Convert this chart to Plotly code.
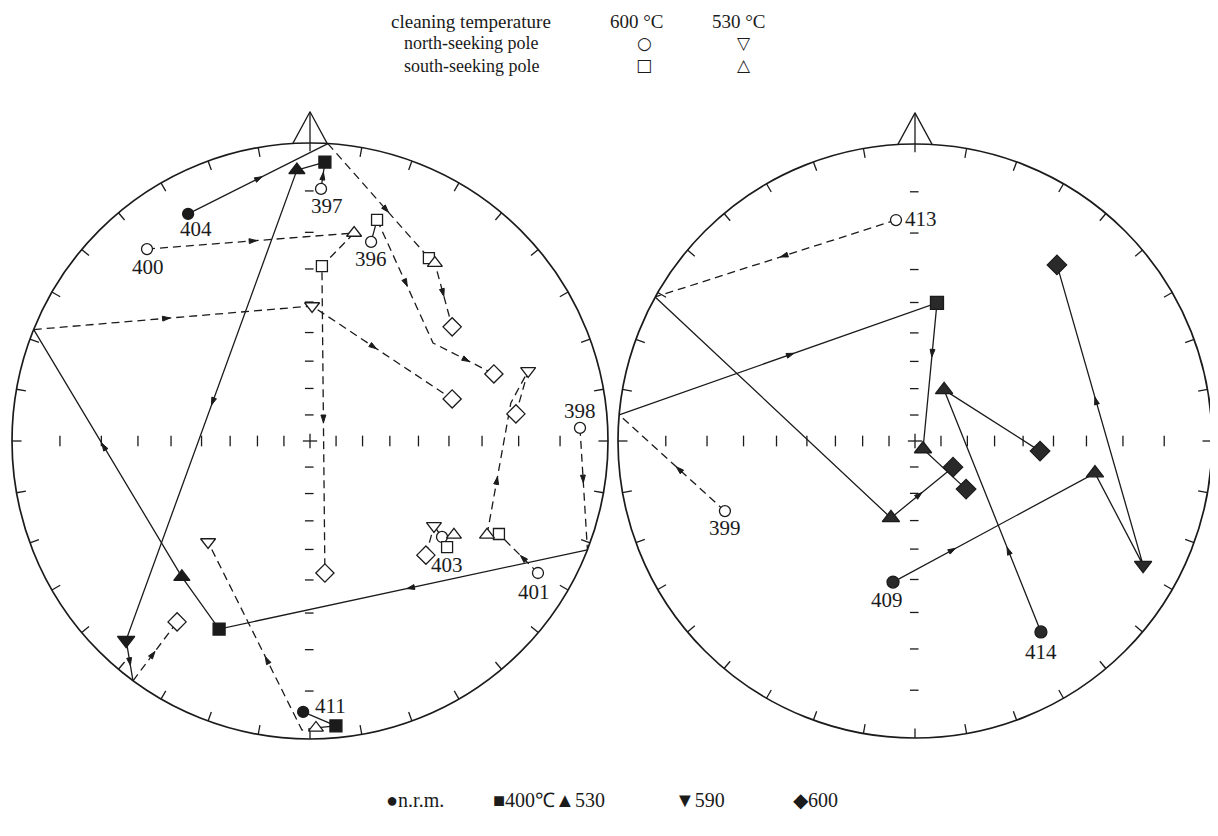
import math
import plotly.graph_objects as go

INK = "#1b1b1b"

# ------------------------------------------------------------------
# DATA  (stereographic / Wulff positions, in units of the net radius;
#        x = east, y = north).
# ------------------------------------------------------------------

# ---- left net : marker positions ----
L_nrm_x = [-0.409, -0.023]                 # 404, 411
L_nrm_y = [0.762, -0.909]
L_400_x = [0.050, -0.305, 0.087]           # filled squares
L_400_y = [0.936, -0.631, -0.956]
L_530_x = [-0.044, -0.430]                 # filled up-triangles
L_530_y = [0.909, -0.456]
L_590_x = [-0.617]                         # filled down-triangle
L_590_y = [-0.668]
L_N600_x = [0.037, 0.205, -0.547, 0.906, 0.765, 0.443]     # open circles
L_N600_y = [0.846, 0.668, 0.644, 0.044, -0.443, -0.322]
L_S600_x = [0.399, 0.225, 0.040, 0.634, 0.460]             # open squares
L_S600_y = [0.614, 0.742, 0.587, -0.312, -0.356]
L_N530_x = [0.007, 0.732, 0.416, -0.342]                   # open down-triangles
L_N530_y = [0.453, 0.235, -0.285, -0.339]
L_S530_x = [0.419, 0.148, 0.594, 0.483, 0.020]             # open up-triangles
L_S530_y = [0.597, 0.698, -0.315, -0.315, -0.963]
L_D600_x = [0.477, 0.617, 0.050, 0.477, 0.691, 0.389, -0.446]   # open diamonds
L_D600_y = [0.383, 0.225, -0.443, 0.141, 0.091, -0.383, -0.607]

# ---- left net : paths (x list, y list, arrows as (segment, fraction)) ----
L_solid = [
    ([-0.409, 0.060], [0.762, 0.998], [(0, 0.53)]),
    ([-0.044, 0.050], [0.909, 0.936], []),
    ([0.037, 0.050], [0.846, 0.936], [(0, 0.62)]),
    ([-0.044, -0.617, -0.594], [0.909, -0.668, -0.805], [(0, 0.50), (1, 0.62)]),
    ([0.205, 0.225], [0.668, 0.742], []),
    ([0.931, -0.305, -0.430, -0.927], [-0.365, -0.631, -0.456, 0.374], [(0, 0.49), (2, 0.54)]),
    ([-0.023, 0.087], [-0.909, -0.956], []),
    ([0.020, 0.087], [-0.963, -0.956], []),
    ([0.416, 0.443, 0.483], [-0.285, -0.322, -0.315], []),
]
L_dashed = [
    ([0.060, 0.399, 0.419, 0.477], [0.998, 0.614, 0.597, 0.383], [(0, 0.60), (2, 0.52)]),
    ([0.225, 0.413, 0.617], [0.742, 0.329, 0.225], [(0, 0.54), (1, 0.60)]),
    ([-0.547, 0.148, 0.040, 0.050], [0.644, 0.698, 0.587, -0.443], [(0, 0.53), (2, 0.51)]),
    ([-0.927, 0.007, 0.477], [0.374, 0.453, 0.141], [(0, 0.49), (1, 0.46)]),
    ([0.906, 0.931], [0.044, -0.365], [(0, 0.45)]),
    ([0.765, 0.634], [-0.443, -0.312], [(0, 0.45)]),
    ([0.594, 0.674, 0.732, 0.691], [-0.315, 0.128, 0.235, 0.091], [(0, 0.44)]),
    ([0.389, 0.416], [-0.383, -0.285], []),
    ([0.020, -0.027, -0.342], [-0.963, -0.970, -0.339], [(1, 0.39)]),
    ([-0.594, -0.446], [-0.805, -0.607], [(0, 0.50)]),
]
L_labels = [("404", -0.383, 0.711), ("397", 0.057, 0.789), ("400", -0.544, 0.584),
            ("396", 0.205, 0.611), ("398", 0.906, 0.101), ("403", 0.460, -0.416),
            ("401", 0.752, -0.507), ("411", 0.068, -0.889)]

# ---- right net : marker positions ----
R_nrm_x = [0.424, -0.074]                  # 414, 409
R_nrm_y = [-0.643, -0.475]
R_400_x = [0.074]
R_400_y = [0.465]
R_530_x = [-0.081, 0.027, 0.098, 0.606]
R_530_y = [-0.259, -0.027, 0.172, -0.108]
R_590_x = [0.768]
R_590_y = [-0.418]
R_600_x = [0.128, 0.172, 0.421, 0.478]     # filled diamonds
R_600_y = [-0.088, -0.162, -0.034, 0.593]
R_N600_x = [-0.064, -0.640]                # open circles 413, 399
R_N600_y = [0.744, -0.236]

R_solid = [
    ([-0.875, -0.081, 0.128], [0.485, -0.259, -0.088], [(1, 0.50)]),
    ([-0.996, 0.074, 0.027, 0.172], [0.088, 0.465, -0.027, -0.162], [(0, 0.55), (1, 0.37)]),
    ([0.424, 0.098, 0.421], [-0.643, 0.172, -0.034], [(0, 0.35)]),
    ([-0.074, 0.606, 0.768, 0.478], [-0.475, -0.108, -0.418, 0.593], [(0, 0.31), (2, 0.56)]),
]
R_dashed = [
    ([-0.064, -0.875], [0.744, 0.485], [(0, 0.48)]),
    ([-0.640, -0.996], [-0.236, 0.088], [(0, 0.46)]),
]
R_labels = [("413", 0.020, 0.747), ("399", -0.640, -0.293), ("409", -0.094, -0.535),
            ("414", 0.424, -0.710)]

INCLINATIONS = [10, 20, 30, 40, 50, 60, 70, 80]

# ------------------------------------------------------------------
OFF = 8                      # page body margin
PW, PH = 1218, 836           # page size
W, H = PW - OFF, PH - OFF    # figure size
fig = go.Figure()
SERIF = "Liberation Serif"


def add_frame(xa, ya):
    fig.add_shape(type="circle", xref=xa, yref=ya, x0=-1, y0=-1, x1=1, y1=1,
                  line=dict(color=INK, width=1.7), layer="below")
    tx, ty = [], []
    for k in range(1, 36):
        a = math.radians(k * 10)
        s, c = math.sin(a), math.cos(a)
        tx += [0.968 * s, s, None]
        ty += [0.968 * c, c, None]
    for inc in INCLINATIONS:
        r = math.tan(math.radians((90 - inc) / 2))
        for sg in (-1, 1):
            tx += [sg * r, sg * r, None]
            ty += [-0.018, 0.018, None]
            tx += [-0.017, 0.012, None]
            ty += [sg * r, sg * r, None]
    tx += [-0.024, 0.024, None, 0, 0, None]
    ty += [0, 0, None, -0.024, 0.024, None]
    tx += [-0.058, 0, 0.058, None, 0, 0, None]
    ty += [0.998, 1.105, 0.998, None, 1.105, 0.972, None]
    fig.add_trace(go.Scatter(x=tx, y=ty, mode="lines", xaxis=xa, yaxis=ya,
                             line=dict(color=INK, width=1.3), hoverinfo="skip",
                             showlegend=False))


def add_path(xs, ys, arrows, dash, xa, ya, arrow_symbol):
    fig.add_trace(go.Scatter(x=xs, y=ys, mode="lines", xaxis=xa, yaxis=ya,
                             line=dict(color=INK, width=1.3, dash=dash),
                             hoverinfo="skip", showlegend=False))
    axs, ays, angs = [], [], []
    for seg, f in arrows:
        x0, y0, x1, y1 = xs[seg], ys[seg], xs[seg + 1], ys[seg + 1]
        axs.append(x0 + f * (x1 - x0))
        ays.append(y0 + f * (y1 - y0))
        angs.append(math.degrees(math.atan2(x1 - x0, y1 - y0)))
    if axs:
        fig.add_trace(go.Scatter(x=axs, y=ays, mode="markers", xaxis=xa, yaxis=ya,
                                 marker=dict(symbol=arrow_symbol, size=8, angle=angs,
                                             color=INK, line=dict(color=INK, width=1)),
                                 hoverinfo="skip", showlegend=False, cliponaxis=False))


def add_markers(xs, ys, symbol, size, fill, xa, ya):
    fig.add_trace(go.Scatter(x=xs, y=ys, mode="markers", xaxis=xa, yaxis=ya,
                             marker=dict(symbol=symbol, size=size, color=fill,
                                         line=dict(color=INK, width=1.3)),
                             hoverinfo="skip", showlegend=False, cliponaxis=False))


def add_labels(labels, xa, ya):
    for t, x, y in labels:
        fig.add_annotation(x=x, y=y, xref=xa, yref=ya, text=t, showarrow=False,
                           font=dict(family=SERIF, size=21, color=INK))


# left net
add_frame("x", "y")
for xs, ys, ar in L_solid:
    add_path(xs, ys, ar, "solid", "x", "y", "arrow")
for xs, ys, ar in L_dashed:
    add_path(xs, ys, ar, "8px,5px", "x", "y", "arrow")
add_markers(L_N600_x, L_N600_y, "circle", 11, "white", "x", "y")
add_markers(L_S600_x, L_S600_y, "square", 11, "white", "x", "y")
add_markers(L_N530_x, L_N530_y, "triangle-down", 13, "white", "x", "y")
add_markers(L_S530_x, L_S530_y, "triangle-up", 13, "white", "x", "y")
add_markers(L_D600_x, L_D600_y, "diamond", 14, "white", "x", "y")
add_markers(L_nrm_x, L_nrm_y, "circle", 11, INK, "x", "y")
add_markers(L_400_x, L_400_y, "square", 12, INK, "x", "y")
add_markers(L_530_x, L_530_y, "triangle-up", 14, INK, "x", "y")
add_markers(L_590_x, L_590_y, "triangle-down", 15, INK, "x", "y")
add_labels(L_labels, "x", "y")

# right net
add_frame("x2", "y2")
for xs, ys, ar in R_solid:
    add_path(xs, ys, ar, "solid", "x2", "y2", "arrow")
for xs, ys, ar in R_dashed:
    add_path(xs, ys, ar, "8px,5px", "x2", "y2", "arrow")
add_markers(R_N600_x, R_N600_y, "circle", 11, "white", "x2", "y2")
add_markers(R_nrm_x, R_nrm_y, "circle", 12, "#2a2a2a", "x2", "y2")
add_markers(R_400_x, R_400_y, "square", 13, "#2a2a2a", "x2", "y2")
add_markers(R_530_x, R_530_y, "triangle-up", 15, "#2a2a2a", "x2", "y2")
add_markers(R_590_x, R_590_y, "triangle-down", 15, "#2a2a2a", "x2", "y2")
add_markers(R_600_x, R_600_y, "diamond", 15, "#2a2a2a", "x2", "y2")
add_labels(R_labels, "x2", "y2")


# legends (paper coordinates from page-pixel positions)
def px(x, y):
    return (x - OFF) / W, 1 - (y - OFF) / H


def ptext(t, x, y, size=21, family=SERIF, xanchor="center"):
    X, Y = px(x, y)
    fig.add_annotation(x=X, y=Y, xref="paper", yref="paper", text=t, showarrow=False,
                       xanchor=xanchor, yanchor="middle", borderpad=0,
                       font=dict(family=family, size=size, color=INK))


ptext("cleaning temperature", 471, 22, 19)
ptext("600 °C", 637, 22, 19)
ptext("530 °C", 739, 22, 19)
ptext("north-seeking pole", 471, 43, 18)
ptext("south-seeking pole", 471, 66, 18)
ptext("○", 644, 43, 17, "DejaVu Sans")
ptext("▽", 744, 43, 17, "DejaVu Sans")
ptext("□", 644, 65, 17, "DejaVu Sans")
ptext("△", 744, 65, 17, "DejaVu Sans")

ptext("●n.r.m.", 415, 800, 20)
ptext("■400℃▲530", 549, 800, 20)
ptext("▼590", 700, 800, 20)
ptext("◆600", 815, 800, 20)

# axes: nets drawn at 298 / 297 px per unit, centred at page (310,441) / (915,441)
RL, RR = 298.0, 297.0
cxL, cxR, cy = 310 - OFF, 915 - OFF, 441 - OFF
xL0, xL1 = 0, 640
xR0, xR1 = 590, W
fig.update_layout(
    width=W, height=H, margin=dict(l=0, r=0, t=0, b=0),
    paper_bgcolor="white", plot_bgcolor="rgba(0,0,0,0)",
    xaxis=dict(domain=[xL0 / W, xL1 / W], range=[(xL0 - cxL) / RL, (xL1 - cxL) / RL],
               visible=False),
    yaxis=dict(domain=[0, 1], range=[-(H - cy) / RL, cy / RL], visible=False),
    xaxis2=dict(domain=[xR0 / W, xR1 / W], range=[(xR0 - cxR) / RR, (xR1 - cxR) / RR],
                visible=False, anchor="y2"),
    yaxis2=dict(domain=[0, 1], range=[-(H - cy) / RR, cy / RR], visible=False,
                anchor="x2"),
    showlegend=False,
)

fig.write_html("out.html")
